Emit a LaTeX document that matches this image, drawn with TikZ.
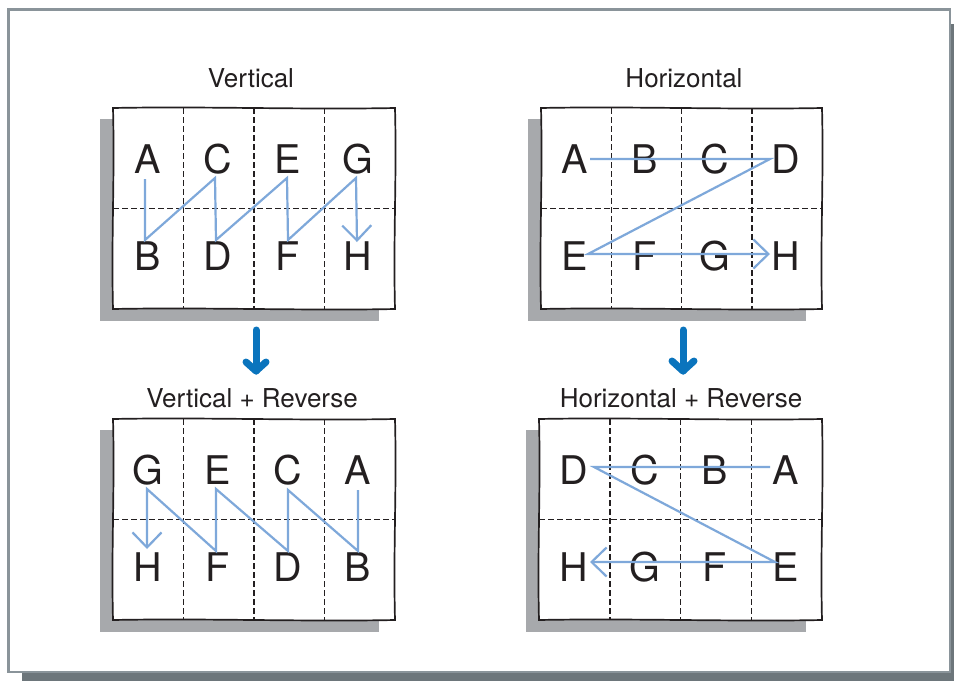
\documentclass[tikz,border=0pt]{standalone}
\usepackage{fontspec}
\setmainfont{TeX Gyre Heros}
\usetikzlibrary{arrows.meta}
\definecolor{framegray}{HTML}{8A949A}
\definecolor{frameshadow}{HTML}{6D767B}
\definecolor{panelshadow}{HTML}{A7A9AC}
\definecolor{flowblue}{HTML}{7EA8DA}
\definecolor{bigblue}{HTML}{0A74BD}
\definecolor{ink}{HTML}{231F20}
\tikzset{
  letter/.style={font=\fontsize{39.5}{39.5}\selectfont, text=ink, inner sep=0pt, anchor=base},
  title/.style={font=\fontsize{26}{26}\selectfont, text=ink, inner sep=0pt, anchor=base},
  panelline/.style={draw=ink, line width=1.7pt, fill=white},
  fold/.style={draw=ink, line width=1.5pt, dash pattern=on 5.5pt off 3.5pt},
  flow/.style={draw=flowblue, line width=2.2pt, line join=miter,
    -{Straight Barb[length=15pt,width=29pt]}},
  bigarrow/.style={draw=bigblue, line width=7pt, line cap=round, line join=round},
}
% wobbly panel: x1 y1 x2 y2 (pixel coords), plus dashed folds
\newcommand{\foldpanel}[4]{%
  \fill[panelshadow] ({#1-13},{#2+11}) rectangle ({#3-16},{#4+12});
  \draw[panelline] (#1,#2)
    .. controls ({#1+90},{#2-1.8}) and ({#1+190},{#2+1.8}) .. (#3,#2)
    .. controls ({#3+1.8},{#2+70}) and ({#3-1.8},{#2+130}) .. (#3,#4)
    .. controls ({#3-90},{#4+1.8}) and ({#3-190},{#4-1.8}) .. (#1,#4)
    .. controls ({#1-1.8},{#4-70}) and ({#1+1.8},{#4-130}) .. cycle;
  \pgfmathsetmacro{\cw}{(#3-#1)/4}
  \foreach \k in {1,2,3}{
    \draw[fold] ({#1+\k*\cw},#2) -- ({#1+\k*\cw},#4);
  }
  \draw[fold] (#1,{(#2+#4)/2}) -- (#3,{(#2+#4)/2});
}
\begin{document}
\begin{tikzpicture}[x=1pt,y=-1pt]
\useasboundingbox (0,0) rectangle (954,681);
% outer frame with shadow
\fill[frameshadow] (22,24) rectangle (954,681);
\draw[framegray, line width=2.6pt, fill=white] (8.3,9.7) rectangle (950,672);

% ---------- Vertical ----------
\node[title] (t1) at (251,87) {Vertical};
\foldpanel{113}{108}{395}{309}
\node[letter] (v1A) at (148,173) {A};
\node[letter] (v1C) at (218,173) {C};
\node[letter] (v1E) at (288,173) {E};
\node[letter] (v1G) at (358,173) {G};
\node[letter] (v1B) at (148,270) {B};
\node[letter] (v1D) at (218,270) {D};
\node[letter] (v1F) at (288,270) {F};
\node[letter] (v1H) at (358,270) {H};
\coordinate (p1a) at (145,179);
\coordinate (p1b) at (145,240);
\coordinate (p1c) at (215,178);
\coordinate (p1d) at (216,240);
\coordinate (p1e) at (287,178);
\coordinate (p1f) at (288,240);
\coordinate (p1g) at (356,178);
\coordinate (p1h) at (357,242);
\draw[flow] (p1a) -- (p1b) -- (p1c) -- (p1d) -- (p1e) -- (p1f) -- (p1g) -- (p1h);

% ---------- Horizontal ----------
\node[title] (t2) at (684,87) {Horizontal};
\foldpanel{541}{108}{822}{309}
\node[letter] (h1A) at (575,173) {A};
\node[letter] (h1B) at (645,173) {B};
\node[letter] (h1C) at (715,173) {C};
\node[letter] (h1D) at (786,173) {D};
\node[letter] (h1E) at (575,270) {E};
\node[letter] (h1F) at (645,270) {F};
\node[letter] (h1G) at (715,270) {G};
\node[letter] (h1H) at (786,270) {H};
\coordinate (q1a) at (590,159);
\coordinate (q1b) at (770,159);
\coordinate (q1c) at (588,254);
\coordinate (q1d) at (770,254);
\draw[flow] (q1a) -- (q1b) -- (q1c) -- (q1d);

% ---------- big arrows ----------
\coordinate (ar1top) at (256,330);
\coordinate (ar1bot) at (256,371);
\coordinate (ar1l) at (246,362);
\coordinate (ar1r) at (266,362);
\draw[bigarrow] (ar1top) -- (ar1bot);
\draw[bigarrow] (ar1l) -- (ar1bot) -- (ar1r);
\coordinate (ar2top) at (683,330);
\coordinate (ar2bot) at (683,371);
\coordinate (ar2l) at (672,361);
\coordinate (ar2r) at (694,361);
\draw[bigarrow] (ar2top) -- (ar2bot);
\draw[bigarrow] (ar2l) -- (ar2bot) -- (ar2r);

% ---------- Vertical + Reverse ----------
\node[title] (t3) at (252,407) {Vertical + Reverse};
\foldpanel{113}{419}{395}{620}
\node[letter] (v2G) at (148,484) {G};
\node[letter] (v2E) at (218,484) {E};
\node[letter] (v2C) at (288,484) {C};
\node[letter] (v2A) at (358,484) {A};
\node[letter] (v2H) at (148,581) {H};
\node[letter] (v2F) at (218,581) {F};
\node[letter] (v2D) at (288,581) {D};
\node[letter] (v2B) at (358,581) {B};
\coordinate (p2a) at (358,490);
\coordinate (p2b) at (358,551);
\coordinate (p2c) at (288,490);
\coordinate (p2d) at (288,551);
\coordinate (p2e) at (216,489);
\coordinate (p2f) at (216,551);
\coordinate (p2g) at (147,489);
\coordinate (p2h) at (147,549);
\draw[flow] (p2a) -- (p2b) -- (p2c) -- (p2d) -- (p2e) -- (p2f) -- (p2g) -- (p2h);

% ---------- Horizontal + Reverse ----------
\node[title] (t4) at (681,407) {Horizontal + Reverse};
\foldpanel{539}{419}{822}{620}
\node[letter] (h2D) at (574,484) {D};
\node[letter] (h2C) at (645,484) {C};
\node[letter] (h2B) at (715,484) {B};
\node[letter] (h2A) at (786,484) {A};
\node[letter] (h2H) at (574,581) {H};
\node[letter] (h2G) at (645,581) {G};
\node[letter] (h2F) at (715,581) {F};
\node[letter] (h2E) at (786,581) {E};
\coordinate (q2a) at (770,467);
\coordinate (q2b) at (594,467);
\coordinate (q2c) at (775,562);
\coordinate (q2d) at (590,562);
\draw[flow] (q2a) -- (q2b) -- (q2c) -- (q2d);
\end{tikzpicture}
\end{document}
